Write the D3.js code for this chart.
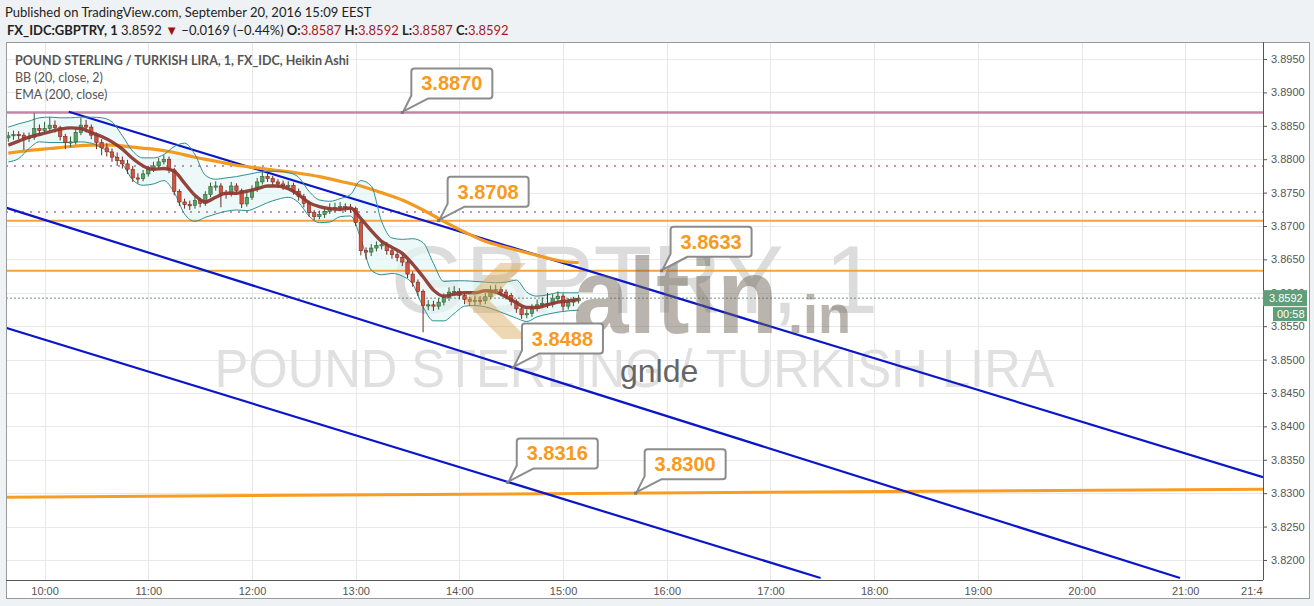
<!DOCTYPE html>
<html><head><meta charset="utf-8">
<script src="https://cdn.jsdelivr.net/npm/d3@7"></script>
<style>body{margin:0;background:#eff2f5;} svg{display:block}</style>
</head><body><svg id="c" width="1314" height="606"></svg>
<script>
// ---------------- DATA ----------------
const headerLine1 = "Published on TradingView.com, September 20, 2016 15:09 EEST";
const symbol = "FX_IDC:GBPTRY, 1";
const lastPrice = 3.8592, change = "\u22120.0169 (\u22120.44%)";
const ohlc = [["O:", "3.8587"], ["H:", "3.8592"], ["L:", "3.8587"], ["C:", "3.8592"]];
const legendLines = ["POUND STERLING / TURKISH LIRA, 1, FX_IDC, Heikin Ashi", "BB (20, close, 2)", "EMA (200, close)"];
const watermarkSymbol = "GBPTRY, 1";
const watermarkName = "POUND STERLING / TURKISH LIRA";
const countdown = "00:58";

const candleStart = "09:39", candleStepMin = 3;
const firstOpen = 3.8832;
const closes = [3.8835,3.8837,3.8836,3.8832,3.8833,3.8846,3.8843,3.8846,3.8851,3.8847,
 3.8834,3.8825,3.8826,3.8840,3.8851,3.8848,3.8836,3.8825,3.8817,3.8811,
 3.8803,3.8798,3.8793,3.8785,3.8772,3.8771,3.8778,3.8785,3.8790,3.8796,
 3.8800,3.8784,3.8752,3.8736,3.8732,3.8731,3.8738,3.8734,3.8747,3.8759,
 3.8760,3.8749,3.8748,3.8760,3.8753,3.8733,3.8743,3.8755,3.8766,3.8774,
 3.8771,3.8766,3.8763,3.8760,3.8761,3.8752,3.8744,3.8734,3.8720,3.8714,
 3.8717,3.8722,3.8727,3.8728,3.8729,3.8727,3.8726,3.8705,3.8663,3.8661,
 3.8667,3.8671,3.8672,3.8663,3.8657,3.8653,3.8646,3.8628,3.8616,3.8602,
 3.8581,3.8582,3.8580,3.8586,3.8593,3.8601,3.8602,3.8596,3.8590,3.8587,
 3.8589,3.8588,3.8594,3.8604,3.8605,3.8601,3.8596,3.8587,3.8576,3.8567,
 3.8569,3.8577,3.8582,3.8584,3.8583,3.8591,3.8595,3.8580,3.8586,3.8588,
 3.8592];
const highs = [3.8841,3.8843,3.8842,3.8840,3.8840,3.8869,3.8852,3.8856,3.8863,3.8858,
 3.8850,3.8838,3.8834,3.8848,3.8862,3.8859,3.8852,3.8840,3.8830,3.8824,
 3.8816,3.8810,3.8804,3.8799,3.8790,3.8779,3.8784,3.8790,3.8796,3.8802,
 3.8806,3.8804,3.8787,3.8755,3.8741,3.8738,3.8744,3.8742,3.8752,3.8765,
 3.8767,3.8764,3.8754,3.8766,3.8764,3.8756,3.8750,3.8761,3.8772,3.8781,
 3.8779,3.8775,3.8770,3.8768,3.8767,3.8765,3.8756,3.8748,3.8738,3.8724,
 3.8723,3.8728,3.8734,3.8735,3.8736,3.8734,3.8733,3.8729,3.8708,3.8668,
 3.8673,3.8677,3.8679,3.8676,3.8667,3.8661,3.8657,3.8649,3.8632,3.8620,
 3.8605,3.8589,3.8588,3.8592,3.8599,3.8608,3.8610,3.8607,3.8600,3.8594,
 3.8596,3.8595,3.8600,3.8611,3.8612,3.8609,3.8605,3.8600,3.8590,3.8580,
 3.8575,3.8583,3.8590,3.8593,3.8600,3.8598,3.8602,3.8599,3.8592,3.8594,
 3.8597];
const lows = [3.8826,3.8829,3.8830,3.8814,3.8826,3.8829,3.8836,3.8838,3.8842,3.8840,
 3.8828,3.8815,3.8818,3.8822,3.8836,3.8840,3.8830,3.8815,3.8806,3.8804,
 3.8796,3.8790,3.8786,3.8778,3.8766,3.8764,3.8767,3.8774,3.8781,3.8786,
 3.8792,3.8779,3.8746,3.8730,3.8726,3.8724,3.8726,3.8728,3.8730,3.8743,
 3.8753,3.8728,3.8741,3.8744,3.8747,3.8727,3.8729,3.8739,3.8751,3.8762,
 3.8766,3.8760,3.8757,3.8754,3.8755,3.8747,3.8738,3.8728,3.8714,3.8709,
 3.8710,3.8712,3.8718,3.8721,3.8722,3.8721,3.8720,3.8700,3.8656,3.8650,
 3.8655,3.8662,3.8665,3.8657,3.8651,3.8647,3.8640,3.8622,3.8609,3.8595,
 3.8541,3.8574,3.8573,3.8575,3.8581,3.8588,3.8595,3.8590,3.8583,3.8580,
 3.8581,3.8582,3.8583,3.8590,3.8598,3.8595,3.8590,3.8581,3.8570,3.8561,
 3.8562,3.8564,3.8572,3.8577,3.8577,3.8578,3.8586,3.8573,3.8575,3.8580,
 3.8584];

const bbStart = "09:39", bbStepMin = 6;
const bbUpper = [3.8848,3.8853,3.8857,3.8862,3.8863,3.8862,3.8862,3.8863,3.8863,3.8862,
 3.8856,3.8835,3.8812,3.8802,3.8802,3.8807,3.8819,3.8824,3.8807,3.8776,
 3.8770,3.8772,3.8774,3.8777,3.8780,3.8782,3.8782,3.8780,3.8773,3.8752,
 3.8739,3.8737,3.8741,3.8747,3.8768,3.8760,3.8707,3.8682,3.8680,3.8681,
 3.8675,3.8644,3.8617,3.8618,3.8618,3.8617,3.8616,3.8615,3.8616,3.8619,
 3.8601,3.8595,3.8597,3.8600,3.8600,3.8600];
const bbLower = [3.8796,3.8801,3.8816,3.8826,3.8825,3.8825,3.8825,3.8826,3.8824,3.8817,
 3.8808,3.8793,3.8769,3.8761,3.8763,3.8768,3.8750,3.8718,3.8707,3.8713,
 3.8718,3.8722,3.8724,3.8723,3.8728,3.8735,3.8740,3.8743,3.8735,3.8715,
 3.8705,3.8706,3.8714,3.8715,3.8681,3.8634,3.8627,3.8629,3.8625,3.8613,
 3.8579,3.8558,3.8558,3.8569,3.8580,3.8581,3.8579,3.8574,3.8568,3.8562,
 3.8557,3.8564,3.8568,3.8571,3.8573,3.8574];
const bbBasis = [3.8821,3.8827,3.8833,3.8837,3.8841,3.8845,3.8847,3.8846,3.8840,3.8834,
 3.8826,3.8815,3.8801,3.8790,3.8785,3.8786,3.8782,3.8764,3.8746,3.8736,
 3.8743,3.8749,3.8749,3.8752,3.8756,3.8760,3.8760,3.8756,3.8747,3.8735,
 3.8729,3.8726,3.8725,3.8727,3.8711,3.8693,3.8677,3.8668,3.8659,3.8643,
 3.8624,3.8604,3.8595,3.8598,3.8600,3.8600,3.8603,3.8601,3.8594,3.8585,
 3.8578,3.8578,3.8582,3.8586,3.8588,3.8590];

const emaTimes = ["09:39","09:51","10:03","10:15","10:27","10:39","10:51","11:03","11:15","11:27",
 "11:39","11:51","12:03","12:15","12:27","12:39","12:51","13:03","13:15","13:27",
 "13:39","13:51","14:03","14:15","14:27","14:39","14:51","15:03","15:09"];
const ema200 = [3.8809,3.8813,3.8816,3.8819,3.8821,3.8821,3.8818,3.8815,3.8810,3.8803,
 3.8797,3.8791,3.8787,3.8783,3.8779,3.8774,3.8767,3.8760,3.8750,3.8739,
 3.8724,3.8707,3.8691,3.8677,3.8668,3.8660,3.8652,3.8646,3.8645];

const resistancePink = 3.8870;
const dottedLevels = [3.8790, 3.8721];
const orangeLevels = [3.8708, 3.8633];
const supportLine = [["09:37", 3.8294], ["21:45", 3.8306]];
const channelLines = [
  [["10:14", 3.8871], ["21:45", 3.8324]],
  [["09:37", 3.8728], ["20:57", 3.8173]],
  [["09:37", 3.8548], ["17:29", 3.8173]]
];
const callouts = [
  {t: "13:27", p: 3.8870, label: "3.8870"},
  {t: "13:48", p: 3.8708, label: "3.8708"},
  {t: "15:57", p: 3.8633, label: "3.8633"},
  {t: "14:31", p: 3.8488, label: "3.8488"},
  {t: "14:28", p: 3.8316, label: "3.8316"},
  {t: "15:42", p: 3.8300, label: "3.8300"}
];
const hourTicks = ["10:00","11:00","12:00","13:00","14:00","15:00","16:00","17:00","18:00","19:00","20:00","21:00","21:40"];
const priceTicks = [3.8200,3.8250,3.8300,3.8350,3.8400,3.8450,3.8500,3.8550,3.8600,3.8650,3.8700,3.8750,3.8800,3.8850,3.8900,3.8950];
const timeDomain = ["09:37:40", "21:45:00"];
const priceDomain = [3.81700, 3.89755];

// ---------------- DRAW ----------------
const svg = d3.select("#c");
const pT = d3.timeParse("%H:%M"), pTs = d3.timeParse("%H:%M:%S");
const L = 6, R = 1263, T = 42, B = 580;
const x = d3.scaleTime().domain(timeDomain.map(pTs)).range([L, R]);
const y = d3.scaleLinear().domain(priceDomain).range([B, T]);
const FONT = "'Liberation Sans', Arial, sans-serif";
const UIF = "Lato, 'Open Sans', sans-serif";

svg.append("rect").attr("width",1314).attr("height",606).attr("fill","#eff2f5");
svg.append("rect").attr("x",L+0.5).attr("y",T+0.5).attr("width",1309-L).attr("height",598-T)
  .attr("fill","#fff").attr("stroke","#9a9a9a");

const defs = svg.append("defs");
defs.append("clipPath").attr("id","plot").append("rect").attr("x",L+1).attr("y",T+1).attr("width",R-L-1).attr("height",B-T-1);
defs.append("clipPath").attr("id","xlab").append("rect").attr("x",L).attr("y",0).attr("width",R-L).attr("height",20);

// grid
const grid = svg.append("g").attr("clip-path","url(#plot)");
grid.selectAll(".vg").data(hourTicks.slice(0,-1)).join("line")
  .attr("x1",d=>Math.round(x(pT(d)))+0.5).attr("x2",d=>Math.round(x(pT(d)))+0.5)
  .attr("y1",T).attr("y2",B).attr("stroke","#e8e8e8");
grid.selectAll(".hg").data(priceTicks).join("line")
  .attr("y1",d=>Math.round(y(d))+0.5).attr("y2",d=>Math.round(y(d))+0.5)
  .attr("x1",L).attr("x2",R).attr("stroke","#e8e8e8");

// watermark
svg.append("text").attr("x",(L+R)/2).attr("y",313).attr("text-anchor","middle")
  .attr("font-family",FONT).attr("font-size",96).attr("fill","#dcdcdc").text(watermarkSymbol);
svg.append("text").attr("x",(L+R)/2).attr("y",387).attr("text-anchor","middle")
  .attr("font-family",FONT).attr("font-size",54).attr("fill","#e0e0e0")
  .attr("textLength",840).attr("lengthAdjust","spacingAndGlyphs").text(watermarkName);

const plot = svg.append("g").attr("clip-path","url(#plot)");

// BB fill
const bbTimes = bbUpper.map((_, i) => d3.timeMinute.offset(pT(bbStart), i*bbStepMin));
const bbData = bbTimes.map((t,i)=>({t, u:bbUpper[i], l:bbLower[i], m:bbBasis[i]}));
plot.append("path").datum(bbData)
  .attr("d", d3.area().x(d=>x(d.t)).y0(d=>y(d.l)).y1(d=>y(d.u)).curve(d3.curveMonotoneX))
  .attr("fill","#e6f5f7").attr("opacity",0.7);

// levels
plot.append("line").attr("x1",L).attr("x2",R).attr("y1",y(resistancePink)).attr("y2",y(resistancePink))
  .attr("stroke","#c386a6").attr("stroke-width",2.5);
plot.selectAll(".dl").data(dottedLevels).join("line").attr("x1",L).attr("x2",R)
  .attr("y1",d=>y(d)).attr("y2",d=>y(d)).attr("stroke","#c590b0").attr("stroke-width",2).attr("stroke-dasharray","2,6");
plot.selectAll(".ol").data(orangeLevels).join("line").attr("x1",L).attr("x2",R)
  .attr("y1",d=>y(d)).attr("y2",d=>y(d)).attr("stroke","#f5a33a").attr("stroke-width",2);
plot.append("line").attr("x1",L).attr("x2",R).attr("y1",y(lastPrice)).attr("y2",y(lastPrice))
  .attr("stroke","#6f8f80").attr("stroke-width",1).attr("stroke-dasharray","2,2");
plot.append("line").attr("x1",x(pT(supportLine[0][0]))).attr("x2",x(pT(supportLine[1][0])))
  .attr("y1",y(supportLine[0][1])).attr("y2",y(supportLine[1][1]))
  .attr("stroke","#f79d24").attr("stroke-width",3);

// channel
plot.selectAll(".ch").data(channelLines).join("line")
  .attr("x1",d=>x(pT(d[0][0]))).attr("y1",d=>y(d[0][1]))
  .attr("x2",d=>x(pT(d[1][0]))).attr("y2",d=>y(d[1][1]))
  .attr("stroke","#0b16c9").attr("stroke-width",2.2);

// EMA
plot.append("path").datum(emaTimes.map((t,i)=>({t:pT(t), v:ema200[i]})))
  .attr("d", d3.line().x(d=>x(d.t)).y(d=>y(d.v)).curve(d3.curveMonotoneX))
  .attr("fill","none").attr("stroke","#f39a22").attr("stroke-width",3.2);

// BB lines
["u","l"].forEach(k=>{
  plot.append("path").datum(bbData)
    .attr("d", d3.line().x(d=>x(d.t)).y(d=>y(d[k])).curve(d3.curveMonotoneX))
    .attr("fill","none").attr("stroke","#2f8f8f").attr("stroke-width",1);
});

// candles
const cTimes = closes.map((_, i) => d3.timeMinute.offset(pT(candleStart), i*candleStepMin));
const candles = closes.map((c,i)=>({t:cTimes[i], o: i===0?firstOpen:closes[i-1], c, h:highs[i], l:lows[i]}));
const cg = plot.append("g");
cg.selectAll(".wk").data(candles).join("line")
  .attr("x1",d=>x(d.t)).attr("x2",d=>x(d.t)).attr("y1",d=>y(d.h)).attr("y2",d=>y(d.l))
  .attr("stroke",d=>d.c>=d.o?"#2f5f38":"#6b2a22").attr("stroke-width",1);
cg.selectAll(".bd").data(candles).join("rect")
  .attr("x",d=>x(d.t)-1.7).attr("width",3.4)
  .attr("y",d=>y(Math.max(d.o,d.c))).attr("height",d=>Math.max(1.2, Math.abs(y(d.o)-y(d.c))))
  .attr("fill",d=>d.c>=d.o?"#58a264":"#d4553f").attr("stroke",d=>d.c>=d.o?"#2f5f38":"#7a2a20").attr("stroke-width",0.6);

// BB basis
plot.append("path").datum(bbData)
  .attr("d", d3.line().x(d=>x(d.t)).y(d=>y(d.m)).curve(d3.curveMonotoneX))
  .attr("fill","none").attr("stroke","#8e3a31").attr("stroke-width",3.4).attr("opacity",0.95);

// altin.in logo overlay
const logo = svg.append("g");
logo.append("polygon").attr("points","500,263 526,263 490,301 528,339 502,339 464,301")
  .attr("fill","rgb(214,168,86)").attr("opacity",0.45);
logo.append("text").attr("x",573).attr("y",333).attr("font-family",FONT).attr("font-weight","bold")
  .attr("font-size",108).attr("fill","rgb(110,100,85)").attr("opacity",0.48)
  .attr("textLength",205).attr("lengthAdjust","spacingAndGlyphs").text("altin");
logo.append("text").attr("x",788).attr("y",333).attr("font-family",FONT).attr("font-weight","bold")
  .attr("font-size",54).attr("fill","rgb(110,100,85)").attr("opacity",0.48).text(".in");
svg.append("text").attr("x",620).attr("y",382).attr("font-family",FONT).attr("font-size",32)
  .attr("fill","#666").text("gnlde");

// callouts
const cl = svg.append("g");
callouts.forEach(c=>{
  const ax = x(pT(c.t)), ay = y(c.p);
  const l = ax+9, r = ax+90, t = ay-44, b = ay-14, rr = 3;
  const p = `M${l+rr},${t} H${r-rr} Q${r},${t} ${r},${t+rr} V${b-rr} Q${r},${b} ${r-rr},${b} H${l+17} L${ax+1},${ay-1} L${l},${b-3} V${t+rr} Q${l},${t} ${l+rr},${t} Z`;
  cl.append("path").attr("d",p).attr("fill","#fff").attr("stroke","#8c8c8c").attr("stroke-width",2).attr("stroke-linejoin","round");
  cl.append("rect").attr("x",ax-1.5).attr("y",ay-1.5).attr("width",3).attr("height",3).attr("fill","#7a7a7a");
  cl.append("text").attr("x",(l+r)/2).attr("y",t+22).attr("text-anchor","middle")
    .attr("font-family",FONT).attr("font-weight","bold").attr("font-size",20).attr("fill","#f79a1e").text(c.label);
});

// axes
const xAxis = d3.axisBottom(x).tickValues(hourTicks.map(pT)).tickFormat(d3.timeFormat("%H:%M")).tickSize(0).tickPadding(7);
const gx = svg.append("g").attr("transform",`translate(0,${B})`).call(xAxis);
gx.attr("clip-path","url(#xlab)");
gx.select(".domain").remove();
gx.selectAll("text").attr("font-family",FONT).attr("font-size",11).attr("fill","#555");
svg.append("line").attr("x1",L).attr("x2",R).attr("y1",B+0.5).attr("y2",B+0.5).attr("stroke","#555");

const yAxis = d3.axisRight(y).tickValues(priceTicks).tickFormat(d3.format(".4f")).tickSize(4).tickPadding(4);
const gy = svg.append("g").attr("transform",`translate(${R},0)`).call(yAxis);
gy.select(".domain").attr("d",`M0.5,${T}V${B}`).attr("stroke","#555");
gy.selectAll(".tick line").attr("stroke","#555");
gy.selectAll("text").attr("font-family",FONT).attr("font-size",11).attr("fill","#555");

// last price label
svg.append("rect").attr("x",R).attr("y",y(lastPrice)-8).attr("width",44).attr("height",16).attr("fill","#5e9e78");
svg.append("text").attr("x",R+6).attr("y",y(lastPrice)+4).attr("font-family",FONT).attr("font-size",11).attr("fill","#fff").text(d3.format(".4f")(lastPrice));
svg.append("rect").attr("x",R+10).attr("y",y(lastPrice)+9).attr("width",34).attr("height",14).attr("fill","#5e9e78");
svg.append("text").attr("x",R+14).attr("y",y(lastPrice)+20).attr("font-family",FONT).attr("font-size",11).attr("fill","#fff").text(countdown);

// header
svg.append("text").attr("x",5).attr("y",17).attr("font-family",UIF).attr("font-size",13).attr("fill","#222").text(headerLine1);
const h2 = svg.append("text").attr("x",7).attr("y",34.5).attr("font-family",UIF).attr("font-size",13).attr("fill","#222");
h2.append("tspan").attr("font-weight","bold").text(symbol);
h2.append("tspan").text(" " + d3.format(".4f")(lastPrice) + " ");
h2.append("tspan").attr("fill","#9b1111").text("\u25BC");
h2.append("tspan").text(" " + change);
ohlc.forEach(([k,v])=>{
  h2.append("tspan").attr("font-weight","bold").text(" " + k);
  h2.append("tspan").attr("fill","#a31c1c").text(v);
});

// legend
legendLines.forEach((s,i)=>{
  svg.append("text").attr("x",15).attr("y",65+i*17).attr("font-family",UIF).attr("font-size",12.5)
    .attr("font-weight",i===0?"bold":"normal").attr("fill","#555").text(s);
});
</script></body></html>
